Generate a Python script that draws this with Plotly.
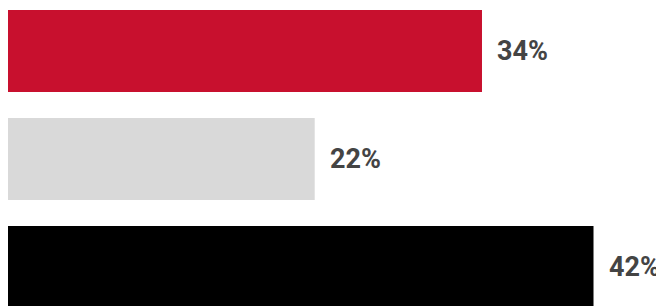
import plotly.graph_objects as go

categories = ["A", "B", "C"]
values = [34, 22, 42]
labels = ["34%", "22%", "42%"]
colors = ["#C8102E", "#D9D9D9", "#000000"]

ypos = list(range(len(categories)))

fig = go.Figure()
fig.add_trace(go.Bar(
    x=values, y=ypos, orientation="h",
    marker=dict(color=colors, line=dict(width=0)),
    width=0.76, hoverinfo="skip",
))
for v, y, t in zip(values, ypos, labels):
    fig.add_annotation(x=v, y=y, text=t, showarrow=False, xanchor="left",
                       yanchor="middle", xshift=13,
                       font=dict(family="Roboto", size=27, color="#444444", weight="bold"))

fig.update_layout(
    width=664, height=306,
    margin=dict(l=0, r=0, t=0, b=0),
    plot_bgcolor="white", paper_bgcolor="white",
    showlegend=False,
    xaxis=dict(range=[0, 47.63], visible=False, fixedrange=True),
    yaxis=dict(range=[2.435, -0.398], visible=False, fixedrange=True),
)
fig.write_html("out.html")
